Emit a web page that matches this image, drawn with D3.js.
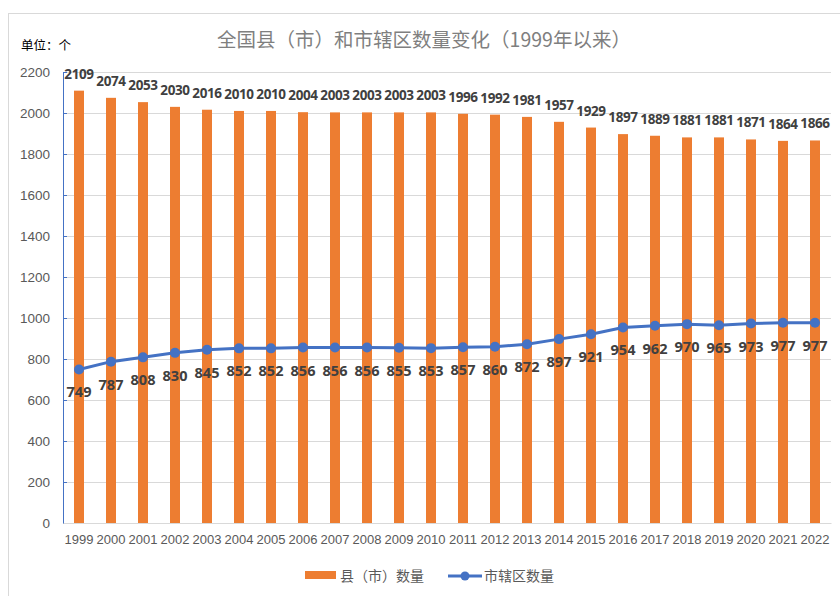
<!doctype html>
<html>
<head>
<meta charset="utf-8"/>
<title>全国县（市）和市辖区数量变化</title>
<script src="https://d3js.org/d3.v7.min.js"></script>
<style>
body { margin: 0; background: #fff; }
text { font-family: "Noto Sans CJK SC", "Liberation Sans", sans-serif; }
</style>
</head>
<body>
<script>
var years = ["1999","2000","2001","2002","2003","2004","2005","2006","2007","2008","2009","2010",
             "2011","2012","2013","2014","2015","2016","2017","2018","2019","2020","2021","2022"];
var xianShi = [2109,2074,2053,2030,2016,2010,2010,2004,2003,2003,2003,2003,
               1996,1992,1981,1957,1929,1897,1889,1881,1881,1871,1864,1866];
var shiXiaQu = [749,787,808,830,845,852,852,856,856,856,855,853,
                857,860,872,897,921,954,962,970,965,973,977,977];
var yTicks = [0,200,400,600,800,1000,1200,1400,1600,1800,2000,2200];

var W = 840, H = 596;
var pLeft = 63, pRight = 831, pTop = 72, pBottom = 523;
var orange = "#ED7D31", blue = "#4472C4";

var svg = d3.select("body").append("svg").attr("width", W).attr("height", H);

// chart border
svg.append("rect").attr("x", 8.5).attr("y", 13.5).attr("width", 850).attr("height", 600)
  .attr("fill", "none").attr("stroke", "#d9d9d9");

var x = d3.scaleBand().domain(years).range([pLeft, pRight]);
var y = d3.scaleLinear().domain([0, 2200]).range([pBottom, pTop]);

// gridlines
svg.append("g").selectAll("line").data(yTicks.filter(function(d){return d > 0;}))
  .enter().append("line")
  .attr("x1", pLeft).attr("x2", pRight)
  .attr("y1", function(d){return y(d) + 0.5;}).attr("y2", function(d){return y(d) + 0.5;})
  .attr("stroke", "#d9d9d9");

// y axis
var yAxis = svg.append("g").attr("transform", "translate(" + pLeft + ",0)")
  .call(d3.axisRight(y).tickValues(yTicks).tickSize(4).tickFormat(""));
yAxis.select(".domain").attr("stroke", blue);
yAxis.selectAll(".tick line").attr("stroke", blue);

svg.append("g").selectAll("text").data(yTicks).enter().append("text")
  .attr("x", 50).attr("y", function(d){return y(d) + 5;})
  .attr("text-anchor", "end").attr("fill", "#595959").attr("font-size", 13.5)
  .style("font-family", "'Liberation Sans', sans-serif")
  .text(function(d){return d;});

// bars
var bw = 10;
svg.append("g").selectAll("rect").data(xianShi).enter().append("rect")
  .attr("x", function(d,i){return x(years[i]) + x.bandwidth()/2 - bw/2;})
  .attr("y", function(d){return y(d);})
  .attr("width", bw)
  .attr("height", function(d){return pBottom - y(d);})
  .attr("fill", orange);

// x axis
var xAxis = svg.append("g").attr("transform", "translate(0," + pBottom + ")")
  .call(d3.axisBottom(x).tickSize(0).tickPadding(12));
xAxis.select(".domain").attr("stroke", "#d9d9d9");
xAxis.selectAll("text").attr("fill", "#595959").attr("font-size", 13)
  .style("font-family", "'Liberation Sans', sans-serif");

// bar labels
svg.append("g").selectAll("text").data(xianShi).enter().append("text")
  .attr("x", function(d,i){return x(years[i]) + x.bandwidth()/2;})
  .attr("y", function(d){return y(d) - 12;})
  .attr("text-anchor", "middle").attr("font-weight", "bold").attr("font-size", 13.5)
  .attr("fill", "#404040")
  .style("font-family", "'Open Sans', sans-serif").style("letter-spacing", "-0.4px")
  .text(function(d){return d;});

// line
var line = d3.line()
  .x(function(d,i){return x(years[i]) + x.bandwidth()/2;})
  .y(function(d){return y(d);});
svg.append("path").datum(shiXiaQu).attr("d", line)
  .attr("fill", "none").attr("stroke", blue).attr("stroke-width", 3).attr("stroke-linejoin", "round");
svg.append("g").selectAll("circle").data(shiXiaQu).enter().append("circle")
  .attr("cx", function(d,i){return x(years[i]) + x.bandwidth()/2;})
  .attr("cy", function(d){return y(d);})
  .attr("r", 5).attr("fill", blue);

svg.append("g").selectAll("text").data(shiXiaQu).enter().append("text")
  .attr("x", function(d,i){return x(years[i]) + x.bandwidth()/2;})
  .attr("y", function(d){return y(d) + 28;})
  .attr("text-anchor", "middle").attr("font-weight", "bold").attr("font-size", 14.5)
  .attr("fill", "#404040")
  .style("font-family", "'Open Sans', sans-serif")
  .text(function(d){return d;});

// title and unit
svg.append("text").attr("x", 424).attr("y", 47).attr("text-anchor", "middle")
  .attr("font-size", 19.5).attr("fill", "#7f7f7f")
  .text("全国县（市）和市辖区数量变化（1999年以来）");
svg.append("text").attr("x", 21).attr("y", 50)
  .attr("font-size", 12.5).attr("fill", "#000")
  .text("单位：个");

// legend
var lg = svg.append("g");
lg.append("rect").attr("x", 305).attr("y", 571).attr("width", 31).attr("height", 8).attr("fill", orange);
lg.append("text").attr("x", 340).attr("y", 581).attr("font-size", 14).attr("fill", "#595959").text("县（市）数量");
lg.append("line").attr("x1", 448).attr("x2", 482).attr("y1", 576).attr("y2", 576)
  .attr("stroke", blue).attr("stroke-width", 3);
lg.append("circle").attr("cx", 465).attr("cy", 576).attr("r", 4.5).attr("fill", blue);
lg.append("text").attr("x", 484).attr("y", 581).attr("font-size", 14).attr("fill", "#595959").text("市辖区数量");
</script>
</body>
</html>
